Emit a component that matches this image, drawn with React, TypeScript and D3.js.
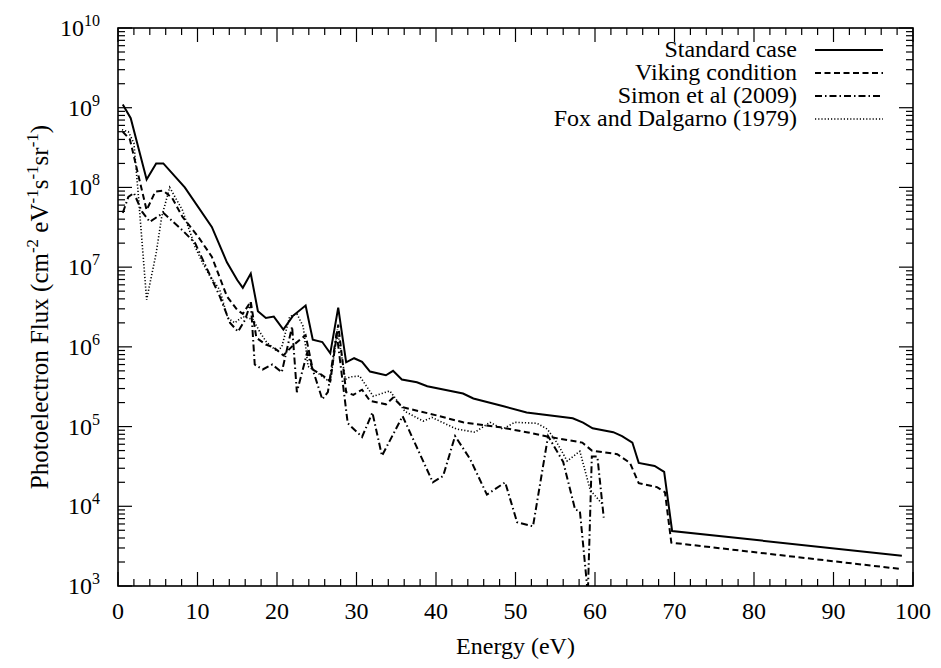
import React from "react";
import * as d3 from "d3";

// ---------- data ----------
const standardEnergy = [0.6, 1.6, 3.6, 4.8, 5.7, 8.4, 11.8, 13.7, 15.0, 15.7, 16.7, 17.6, 18.6, 19.6, 20.8, 22.0, 23.6, 24.5, 25.7, 26.7, 27.7, 28.7, 29.7, 30.7, 31.7, 33.7, 34.6, 35.7, 37.6, 38.9, 43.4, 44.7, 48.5, 51.4, 57.2, 58.5, 59.7, 62.3, 63.4, 64.7, 65.5, 67.5, 68.7, 69.7, 98.6];
const standardFlux = [1.1e9, 7.4e8, 1.26e8, 2.0e8, 2.0e8, 1.0e8, 3.2e7, 1.15e7, 6.9e6, 5.5e6, 8.3e6, 2.8e6, 2.3e6, 2.4e6, 1.65e6, 2.45e6, 3.3e6, 1.23e6, 1.15e6, 8.3e5, 3.1e6, 6.4e5, 7.2e5, 6.5e5, 4.9e5, 4.4e5, 5.0e5, 3.9e5, 3.6e5, 3.2e5, 2.6e5, 2.25e5, 1.8e5, 1.5e5, 1.27e5, 1.12e5, 9.5e4, 8.5e4, 7.6e4, 6.3e4, 3.5e4, 3.2e4, 2.7e4, 4.9e3, 2.4e3];

const vikingEnergy = [0.6, 1.5, 2.4, 3.6, 4.7, 5.7, 6.8, 8.1, 10.1, 11.8, 13.7, 15.0, 15.7, 16.7, 17.4, 18.6, 19.6, 20.8, 22.0, 23.6, 24.5, 25.7, 26.7, 27.7, 28.7, 29.6, 30.7, 31.7, 33.7, 34.6, 35.8, 40.1, 43.4, 48.1, 51.4, 54.3, 58.4, 59.6, 62.8, 64.4, 65.5, 67.8, 68.8, 69.6, 98.6];
const vikingFlux = [5e8, 4e8, 1.66e8, 5.2e7, 8.9e7, 9.1e7, 7.4e7, 4.3e7, 2.4e7, 1.35e7, 4.3e6, 2.9e6, 2.6e6, 3.7e6, 1.3e6, 1.07e6, 9.8e5, 7.8e5, 1.04e6, 1.4e6, 5.2e5, 4.4e5, 3.7e5, 1.9e6, 2.7e5, 2.5e5, 2.9e5, 2.1e5, 1.9e5, 2.3e5, 1.75e5, 1.38e5, 1.13e5, 9.8e4, 8.5e4, 7.4e4, 6.3e4, 5.0e4, 4.5e4, 3.5e4, 1.95e4, 1.74e4, 1.5e4, 3.5e3, 1.63e3];

const simonEnergy = [0.6, 1.3, 2.0, 3.0, 4.0, 5.7, 8.1, 9.7, 12.8, 14.1, 15.1, 16.0, 16.7, 17.2, 18.2, 19.4, 20.6, 21.9, 22.5, 23.8, 25.7, 26.4, 27.5, 28.9, 30.7, 32.0, 33.2, 35.8, 39.6, 40.9, 42.4, 44.3, 46.4, 48.7, 50.2, 52.2, 54.1, 56.0, 57.5, 58.1, 59.1, 59.6, 60.3, 61.1];
const simonFlux = [4.8e7, 7.6e7, 8.5e7, 5e7, 3.7e7, 4.8e7, 2.9e7, 2.0e7, 4.3e6, 2.0e6, 1.55e6, 2.2e6, 3.6e6, 6e5, 5.2e5, 6e5, 4.8e5, 1.8e6, 2.7e5, 8.5e5, 2.2e5, 2.7e5, 1.5e6, 1.1e5, 7.4e4, 1.5e5, 4.3e4, 1.35e5, 2.0e4, 2.4e4, 7.6e4, 3.9e4, 1.4e4, 2.0e4, 6.3e3, 5.6e3, 7.6e4, 3.6e4, 9.1e3, 8.7e3, 8e2, 4.2e4, 4.2e4, 7.2e3];

const foxEnergy = [0.5, 1.3, 2.0, 2.5, 3.6, 4.8, 5.5, 6.5, 8.1, 9.7, 10.6, 11.6, 12.8, 13.8, 14.7, 15.7, 17.0, 17.9, 18.7, 20.0, 20.6, 21.6, 22.5, 23.3, 23.9, 25.0, 26.7, 27.6, 28.6, 29.2, 30.4, 32.1, 34.2, 36.1, 38.4, 39.5, 42.6, 44.9, 46.8, 48.4, 49.9, 52.7, 54.0, 55.2, 56.5, 58.1, 59.4, 60.9];
const foxFlux = [5.3e8, 5.0e8, 3.6e8, 9.4e7, 3.9e6, 1.5e7, 4.3e7, 1.0e8, 5.2e7, 1.8e7, 1.15e7, 7.6e6, 5.2e6, 2.3e6, 2.0e6, 2.4e6, 2.2e6, 1.5e6, 1.14e6, 8.8e5, 1.0e6, 2.4e6, 2.6e6, 1.8e6, 5.7e5, 4.8e5, 3.6e5, 1.65e6, 3.9e5, 4.2e5, 4.3e5, 2.4e5, 2.8e5, 1.55e5, 1.17e5, 1.3e5, 9.3e4, 8.5e4, 1.13e5, 9.3e4, 1.13e5, 1.1e5, 9.3e4, 6.3e4, 3.7e4, 4.9e4, 1.6e4, 1.07e4];

const seriesLabels = ["Standard case", "Viking condition", "Simon et al (2009)", "Fox and Dalgarno (1979)"];
const xTickValues = [0, 10, 20, 30, 40, 50, 60, 70, 80, 90, 100];
const yTickExponents = [3, 4, 5, 6, 7, 8, 9, 10];

// ---------- layout ----------
const W = 941;
const H = 668;
const L = 118, R = 913, T = 28, B = 586;
const FONT = "'Liberation Serif', 'Times New Roman', Times, serif";

const styles = [
  { dash: undefined as string | undefined, width: 2 },
  { dash: "6,3.5", width: 2 },
  { dash: "7,3,1.5,3", width: 2 },
  { dash: "1.2,2", width: 1.6 },
];

export default function App() {
  const x = d3.scaleLinear().domain([0, 100]).range([L, R]);
  const y = d3.scaleLog().domain([1e3, 1e10]).range([B, T]);

  const series = [
    d3.zip(standardEnergy, standardFlux),
    d3.zip(vikingEnergy, vikingFlux),
    d3.zip(simonEnergy, simonFlux),
    d3.zip(foxEnergy, foxFlux),
  ] as [number, number][][];

  const line = d3
    .line<[number, number]>()
    .x((d) => x(d[0]))
    .y((d) => y(d[1]));

  const xMinor = d3.range(0, 101, 2).filter((v) => v % 10 !== 0);
  const yMinor: number[] = [];
  for (let e = 3; e < 10; e++) for (let k = 2; k <= 9; k++) yMinor.push(k * Math.pow(10, e));

  const MAJ = 14, MIN = 7;
  const tickStroke = { stroke: "#000", strokeWidth: 1.2 };

  const legX1 = 815, legX2 = 883, legTextX = 797;
  const legBase = [57, 80, 103, 126];

  return (
    <div style={{ position: "absolute", left: 0, top: 0 }}>
      <svg width={W} height={H} style={{ display: "block", background: "#fff", fontFamily: FONT }}>
        <rect x={0} y={0} width={W} height={H} fill="#fff" />
        <defs>
          <clipPath id="plotClip">
            <rect x={L} y={T} width={R - L} height={B - T} />
          </clipPath>
        </defs>

        {/* x ticks */}
        {xTickValues.map((v) => (
          <g key={"xt" + v}>
            <line x1={x(v)} x2={x(v)} y1={B} y2={B - MAJ} {...tickStroke} />
            <line x1={x(v)} x2={x(v)} y1={T} y2={T + MAJ} {...tickStroke} />
            <text x={x(v)} y={619} textAnchor="middle" fontSize={24}>
              {v}
            </text>
          </g>
        ))}
        {xMinor.map((v) => (
          <g key={"xm" + v}>
            <line x1={x(v)} x2={x(v)} y1={B} y2={B - MIN} {...tickStroke} />
            <line x1={x(v)} x2={x(v)} y1={T} y2={T + MIN} {...tickStroke} />
          </g>
        ))}

        {/* y ticks */}
        {yTickExponents.map((e) => {
          const yy = y(Math.pow(10, e));
          return (
            <g key={"yt" + e}>
              <line x1={L} x2={L + MAJ} y1={yy} y2={yy} {...tickStroke} />
              <line x1={R} x2={R - MAJ} y1={yy} y2={yy} {...tickStroke} />
              <text x={100} y={yy + 8} textAnchor="end" fontSize={24}>
                10
                <tspan fontSize={16} dy={-10}>
                  {e}
                </tspan>
              </text>
            </g>
          );
        })}
        {yMinor.map((v, i) => (
          <g key={"ym" + i}>
            <line x1={L} x2={L + MIN} y1={y(v)} y2={y(v)} {...tickStroke} />
            <line x1={R} x2={R - MIN} y1={y(v)} y2={y(v)} {...tickStroke} />
          </g>
        ))}

        {/* data */}
        <g clipPath="url(#plotClip)">
          {series.map((s, i) => (
            <path
              key={"s" + i}
              d={line(s) || ""}
              fill="none"
              stroke="#000"
              strokeWidth={styles[i].width}
              strokeDasharray={styles[i].dash}
              strokeLinejoin="miter"
            />
          ))}
        </g>

        {/* frame */}
        <rect x={L} y={T} width={R - L} height={B - T} fill="none" stroke="#000" strokeWidth={1.6} />

        {/* legend */}
        {seriesLabels.map((lab, i) => (
          <g key={"lg" + i}>
            <text x={legTextX} y={legBase[i]} textAnchor="end" fontSize={24}>
              {lab}
            </text>
            <line
              x1={legX1}
              x2={legX2}
              y1={legBase[i] - 7}
              y2={legBase[i] - 7}
              stroke="#000"
              strokeWidth={styles[i].width}
              strokeDasharray={styles[i].dash}
            />
          </g>
        ))}

        {/* axis titles */}
        <text x={(L + R) / 2} y={654} textAnchor="middle" fontSize={24}>
          Energy (eV)
        </text>
        <text transform={`translate(48, ${(T + B) / 2}) rotate(-90)`} textAnchor="middle" fontSize={25}>
          Photoelectron Flux (cm
          <tspan fontSize={17} dy={-10}>-2</tspan>
          <tspan dy={10}> eV</tspan>
          <tspan fontSize={17} dy={-10}>-1</tspan>
          <tspan dy={10}>s</tspan>
          <tspan fontSize={17} dy={-10}>-1</tspan>
          <tspan dy={10}>sr</tspan>
          <tspan fontSize={17} dy={-10}>-1</tspan>
          <tspan dy={10}>)</tspan>
        </text>
      </svg>
    </div>
  );
}
